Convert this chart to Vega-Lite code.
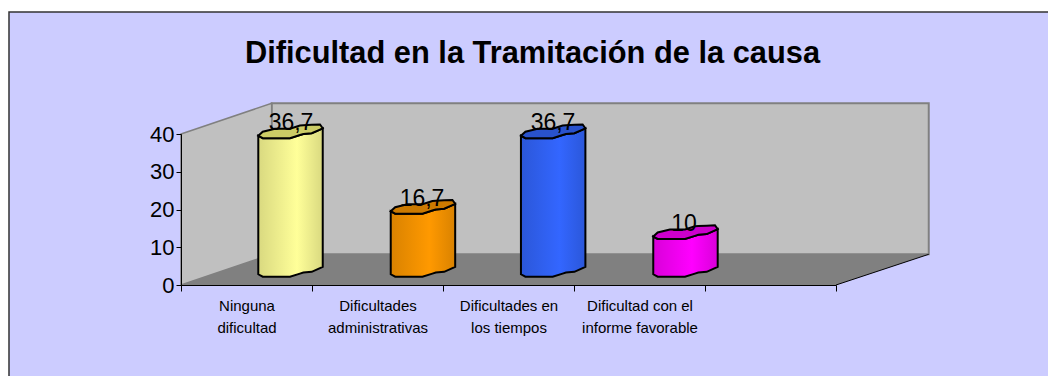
{
"$schema":"https://vega.github.io/schema/vega-lite/v6.json",
"width":655,"height":151,
"padding":{"left":181,"top":134,"right":212,"bottom":91},
"autosize":{"type":"none"},
"background":"white",
"view":{"stroke":null},
"title":{"text":"Dificultad en la Tramitación de la causa","font":"Liberation Sans","fontWeight":"bold","fontSize":30.8,"color":"#000000","anchor":"middle","dx":24,"offset":-61},
"datasets":{
"piezas":[
{"pieza":"marco","x":-1.313,"y":72.3,"y2":-24.6},
{"pieza":"marco","x":6.634,"y":72.3,"y2":-24.6},
{"pieza":"fondo","x":0.692,"y":48.13,"y2":8.13},
{"pieza":"fondo","x":5.708,"y":48.13,"y2":8.13},
{"pieza":"lateral","x":0,"y":40,"y2":0},
{"pieza":"lateral","x":0.692,"y":48.13,"y2":8.13},
{"pieza":"suelo","x":0,"y":0,"y2":0},
{"pieza":"suelo","x":0.692,"y":8.13,"y2":0},
{"pieza":"suelo","x":5,"y":8.13,"y2":0},
{"pieza":"suelo","x":5.708,"y":8.13,"y2":8.13}
],
"borde":[{"x":5,"y":0},{"x":5.708,"y":8.13}],
"etiquetas":[
{"categoria":"Ninguna dificultad","valor":36.7,"texto":"36,7"},
{"categoria":"Dificultades administrativas","valor":16.7,"texto":"16,7"},
{"categoria":"Dificultades en los tiempos","valor":36.7,"texto":"36,7"},
{"categoria":"Dificultad con el informe favorable","valor":10,"texto":"10"}
],
"barras":[
{"c":"a","x":0.590,"b":2.84,"t":39.54,"k":39.54},
{"c":"a","x":0.624,"b":2.2,"t":38.9,"k":40.62},
{"c":"a","x":0.717,"b":2.2,"t":38.9,"k":41.39},
{"c":"a","x":0.832,"b":2.2,"t":38.9,"k":41.39},
{"c":"a","x":0.908,"b":3.02,"t":39.72,"k":42.26},
{"c":"a","x":0.934,"b":3.31,"t":40.01,"k":42.32},
{"c":"a","x":0.998,"b":3.5,"t":40.2,"k":42.42},
{"c":"a","x":1.061,"b":4.48,"t":41.18,"k":42.53},
{"c":"a","x":1.082,"b":4.82,"t":41.52,"k":41.52},
{"c":"b","x":1.601,"b":2.84,"t":19.54,"k":19.54},
{"c":"b","x":1.635,"b":2.2,"t":18.9,"k":20.62},
{"c":"b","x":1.728,"b":2.2,"t":18.9,"k":21.39},
{"c":"b","x":1.843,"b":2.2,"t":18.9,"k":21.39},
{"c":"b","x":1.919,"b":3.02,"t":19.72,"k":22.26},
{"c":"b","x":1.945,"b":3.31,"t":20.01,"k":22.32},
{"c":"b","x":2.009,"b":3.5,"t":20.2,"k":22.42},
{"c":"b","x":2.072,"b":4.48,"t":21.18,"k":22.53},
{"c":"b","x":2.093,"b":4.82,"t":21.52,"k":21.52},
{"c":"c","x":2.595,"b":2.84,"t":39.54,"k":39.54},
{"c":"c","x":2.629,"b":2.2,"t":38.9,"k":40.62},
{"c":"c","x":2.722,"b":2.2,"t":38.9,"k":41.39},
{"c":"c","x":2.837,"b":2.2,"t":38.9,"k":41.39},
{"c":"c","x":2.913,"b":3.02,"t":39.72,"k":42.26},
{"c":"c","x":2.939,"b":3.31,"t":40.01,"k":42.32},
{"c":"c","x":3.003,"b":3.5,"t":40.2,"k":42.42},
{"c":"c","x":3.066,"b":4.48,"t":41.18,"k":42.53},
{"c":"c","x":3.087,"b":4.82,"t":41.52,"k":41.52},
{"c":"d","x":3.605,"b":2.84,"t":12.84,"k":12.84},
{"c":"d","x":3.639,"b":2.2,"t":12.2,"k":13.92},
{"c":"d","x":3.732,"b":2.2,"t":12.2,"k":14.69},
{"c":"d","x":3.847,"b":2.2,"t":12.2,"k":14.69},
{"c":"d","x":3.923,"b":3.02,"t":13.02,"k":15.56},
{"c":"d","x":3.949,"b":3.31,"t":13.31,"k":15.62},
{"c":"d","x":4.013,"b":3.5,"t":13.5,"k":15.72},
{"c":"d","x":4.076,"b":4.48,"t":14.48,"k":15.83},
{"c":"d","x":4.097,"b":4.82,"t":14.82,"k":14.82}
]
},
"resolve":{"scale":{"x":"independent"},"axis":{"y":"independent"}},
"encoding":{},
"layer":[
{"data":{"name":"piezas"},"transform":[{"filter":"datum.pieza=='marco'"}],
 "mark":{"type":"area","fill":"#CCCCFF","stroke":"#333333","strokeWidth":1.5},
 "encoding":{"x":{"field":"x","type":"quantitative","scale":{"domain":[0,5]},"axis":null},
 "y":{"field":"y","type":"quantitative","scale":{"domain":[0,40],"nice":false},"axis":null},
 "y2":{"field":"y2"}}},
{"data":{"name":"piezas"},"transform":[{"filter":"datum.pieza=='fondo'"}],
 "mark":{"type":"area","fill":"#C0C0C0","stroke":"#808080","strokeWidth":2},
 "encoding":{"x":{"field":"x","type":"quantitative","scale":{"domain":[0,5]},"axis":null},"y":{"field":"y","type":"quantitative","axis":null},"y2":{"field":"y2"}}},
{"data":{"name":"piezas"},"transform":[{"filter":"datum.pieza=='lateral'"}],
 "mark":{"type":"area","fill":"#C0C0C0","stroke":"#808080","strokeWidth":1.5},
 "encoding":{"x":{"field":"x","type":"quantitative","scale":{"domain":[0,5]},"axis":null},"y":{"field":"y","type":"quantitative","axis":null},"y2":{"field":"y2"}}},
{"data":{"name":"piezas"},"transform":[{"filter":"datum.pieza=='suelo'"}],
 "mark":{"type":"area","fill":"#808080"},
 "encoding":{"x":{"field":"x","type":"quantitative","scale":{"domain":[0,5]},"axis":null},"y":{"field":"y","type":"quantitative","axis":null},"y2":{"field":"y2"}}},
{"data":{"name":"borde"},
 "mark":{"type":"line","stroke":"#000000","strokeWidth":1},
 "encoding":{"x":{"field":"x","type":"quantitative","scale":{"domain":[0,5]},"axis":null},"y":{"field":"y","type":"quantitative","axis":null}}},
{"data":{"name":"barras"},"transform":[{"filter":"datum.c=='a'"}],
 "mark":{"type":"area","stroke":"#000000","strokeWidth":2,"fill":{"gradient":"linear","x1":0,"x2":1,"y1":0,"y2":0,"stops":[{"offset":0,"color":"#D9D980"},{"offset":0.6,"color":"#FFFF99"},{"offset":1,"color":"#D9D980"}]}},
 "encoding":{"x":{"field":"x","type":"quantitative","scale":{"domain":[0,5]},"axis":null},"y":{"field":"t","type":"quantitative","axis":null},"y2":{"field":"b"}}},
{"data":{"name":"barras"},"transform":[{"filter":"datum.c=='b'"}],
 "mark":{"type":"area","stroke":"#000000","strokeWidth":2,"fill":{"gradient":"linear","x1":0,"x2":1,"y1":0,"y2":0,"stops":[{"offset":0,"color":"#D98200"},{"offset":0.6,"color":"#FF9900"},{"offset":1,"color":"#D98200"}]}},
 "encoding":{"x":{"field":"x","type":"quantitative","scale":{"domain":[0,5]},"axis":null},"y":{"field":"t","type":"quantitative","axis":null},"y2":{"field":"b"}}},
{"data":{"name":"barras"},"transform":[{"filter":"datum.c=='c'"}],
 "mark":{"type":"area","stroke":"#000000","strokeWidth":2,"fill":{"gradient":"linear","x1":0,"x2":1,"y1":0,"y2":0,"stops":[{"offset":0,"color":"#2B57D9"},{"offset":0.6,"color":"#3366FF"},{"offset":1,"color":"#2B57D9"}]}},
 "encoding":{"x":{"field":"x","type":"quantitative","scale":{"domain":[0,5]},"axis":null},"y":{"field":"t","type":"quantitative","axis":null},"y2":{"field":"b"}}},
{"data":{"name":"barras"},"transform":[{"filter":"datum.c=='d'"}],
 "mark":{"type":"area","stroke":"#000000","strokeWidth":2,"fill":{"gradient":"linear","x1":0,"x2":1,"y1":0,"y2":0,"stops":[{"offset":0,"color":"#D900D9"},{"offset":0.6,"color":"#FF00FF"},{"offset":1,"color":"#D900D9"}]}},
 "encoding":{"x":{"field":"x","type":"quantitative","scale":{"domain":[0,5]},"axis":null},"y":{"field":"t","type":"quantitative","axis":null},"y2":{"field":"b"}}},
{"data":{"name":"barras"},
 "mark":{"type":"area","stroke":"#000000","strokeWidth":2},
 "encoding":{"x":{"field":"x","type":"quantitative","scale":{"domain":[0,5]},"axis":null},"y":{"field":"k","type":"quantitative","axis":null},"y2":{"field":"t"},
 "detail":{"field":"c"},
 "fill":{"field":"c","type":"nominal","legend":null,"scale":{"domain":["a","b","c","d"],"range":["#CCCC66","#CC7A00","#2952CC","#CC00CC"]}}}},
{"data":{"name":"etiquetas"},
 "mark":{"type":"text","font":"Liberation Sans","fontSize":23,"color":"#000000","dx":44.5,"dy":-23,"baseline":"middle","align":"center"},
 "encoding":{
 "x":{"field":"categoria","type":"nominal","sort":null,"scale":{"domain":["Ninguna dificultad","Dificultades administrativas","Dificultades en los tiempos","Dificultad con el informe favorable"," "],"paddingInner":0,"paddingOuter":0},
 "axis":{"title":null,"labelAngle":0,"zindex":1,"tickBand":"extent","tickSize":6,"tickColor":"#000000","domainColor":"#000000","labelFont":"Liberation Sans","labelFontSize":15,"labelColor":"#000000","labelLimit":0,"labelLineHeight":22,"labelPadding":7,"labelBaseline":"top",
 "labelExpr":"datum.label=='Ninguna dificultad'?['Ninguna','dificultad']:datum.label=='Dificultades administrativas'?['Dificultades','administrativas']:datum.label=='Dificultades en los tiempos'?['Dificultades en','los tiempos']:datum.label=='Dificultad con el informe favorable'?['Dificultad con el','informe favorable']:''"}},
 "y":{"field":"valor","type":"quantitative","axis":{"values":[0,10,20,30,40],"labelOverlap":false,"title":null,"grid":false,"zindex":1,"labelFont":"Liberation Sans","labelFontSize":22,"labelColor":"#000000","domainColor":"#000000","tickColor":"#000000","tickSize":5,"labelPadding":2}},
 "text":{"field":"texto","type":"nominal"}}}
]
}
